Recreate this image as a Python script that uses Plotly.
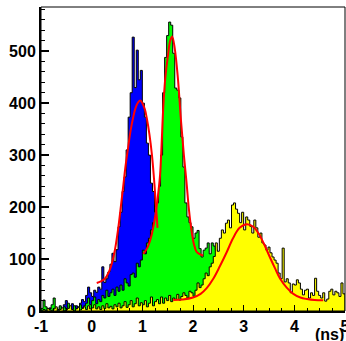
import plotly.graph_objects as go

# ---------------- data ----------------
bin_start = -1.0
bin_width = 0.04   # 150 bins from -1 to 5 ns

blue_counts = [
    2, 0, 4, 0, 6, 3, 0, 5, 2, 8,
    4, 12, 20, 9, 6, 14, 4, 10, 7, 15,
    22, 18, 30, 46, 35, 28, 40, 36, 46, 42,
    85, 55, 62, 75, 90, 111, 95, 118, 162, 190,
    230, 258, 310, 373, 420, 527, 430, 502, 445, 463,
    400, 373, 323, 300, 246, 230, 190, 155, 130, 105,
    85, 65, 50, 35, 25, 18, 12, 8, 5, 3,
] + [0] * 80

green_counts = [
    5, 21, 8, 0, 4, 12, 25, 6, 3, 10,
    2, 8, 4, 15, 6, 3, 10, 5, 8, 12,
    6, 10, 15, 25, 12, 20, 27, 14, 22, 18,
    30, 25, 40, 28, 35, 42, 30, 46, 38, 50,
    40, 62, 54, 48, 70, 73, 65, 92, 85, 98,
    117, 110, 131, 140, 156, 170, 181, 208, 240, 300,
    420, 488, 530, 556, 550, 496, 429, 425, 410, 335,
    277, 208, 181, 170, 162, 140, 150, 155, 120, 104,
    117, 121, 131, 110, 131, 125, 118, 100, 85, 70,
    55, 45, 35, 25, 15, 10, 6, 3, 0, 0,
] + [0] * 50

yellow_counts = [
    0, 3, 0, 5, 2, 0, 4, 8, 0, 3,
    6, 0, 2, 5, 10, 3, 0, 4, 7, 2,
    5, 8, 3, 10, 4, 6, 12, 4, 8, 3,
    10, 5, 14, 6, 9, 4, 12, 8, 15, 6,
    10, 18, 7, 12, 20, 8, 14, 25, 10, 16,
    12, 20, 8, 15, 27, 10, 18, 22, 14, 27,
    15, 25, 20, 30, 18, 25, 22, 32, 21, 28,
    35, 30, 25, 38, 35, 28, 40, 54, 45, 50,
    62, 73, 68, 85, 92, 105, 131, 115, 140, 156,
    150, 169, 175, 160, 204, 208, 196, 188, 170, 190,
    156, 181, 175, 163, 150, 175, 160, 142, 150, 131,
    127, 117, 123, 112, 104, 98, 92, 73, 62, 121,
    56, 62, 54, 35, 52, 50, 60, 54, 42, 31,
    40, 42, 25, 35, 30, 63, 38, 30, 25, 35,
    19, 23, 38, 42, 31, 38, 35, 28, 54, 33,
]

# fitted curves, points
blue_fit_x = [0.10, 0.18, 0.26, 0.34, 0.40, 0.46, 0.52, 0.57, 0.62, 0.67, 0.72, 0.77,
              0.82, 0.87, 0.92, 0.96, 1.00, 1.05, 1.09, 1.14, 1.19, 1.23, 1.26, 1.30]
blue_fit_y = [54, 57, 62, 75, 92, 118, 156, 196, 238, 280, 315, 348,
              373, 392, 402, 405, 400, 388, 370, 340, 300, 255, 215, 160]

green_fit_x = [1.02, 1.10, 1.18, 1.25, 1.30, 1.35, 1.38, 1.41, 1.45, 1.51, 1.55, 1.59,
               1.64, 1.70, 1.76, 1.82, 1.87, 1.92, 1.97, 2.02, 2.07, 2.14, 2.20]
green_fit_y = [110, 122, 145, 180, 215, 262, 320, 386, 445, 495, 520, 528,
               505, 450, 370, 300, 250, 195, 155, 128, 114, 109, 107]

yellow_fit_x = [1.61, 1.80, 2.00, 2.15, 2.27, 2.40, 2.53, 2.66, 2.79, 2.92, 3.06, 3.19,
                3.32, 3.42, 3.52, 3.62, 3.72, 3.85, 3.98, 4.12, 4.25, 4.40, 4.57]
yellow_fit_y = [21, 22, 26, 33, 44, 62, 86, 112, 140, 160, 167, 162,
                145, 125, 103, 82, 62, 45, 33, 26, 23, 21, 20.5]

x_tick_vals = [-1, 0, 1, 2, 3, 4, 5]
x_tick_text = ["-1", "0", "1", "2", "3", "4", "5"]
y_tick_vals = [0, 100, 200, 300, 400, 500]
y_tick_text = ["0", "100", "200", "300", "400", "500"]
x_unit = "(ns)"

# ---------------- figure ----------------
def step_xy(counts):
    n = len(counts)
    edges = [bin_start + bin_width * k for k in range(n + 1)]
    xs = [edges[0]] + edges[:-1] + [edges[-1], edges[-1]]
    ys = [0] + list(counts) + [counts[-1], 0]
    return xs, ys

fig = go.Figure()
for counts, col in [(blue_counts, "#0000ff"), (green_counts, "#00ff00"), (yellow_counts, "#ffff00")]:
    xs, ys = step_xy(counts)
    fig.add_trace(go.Scatter(x=xs, y=ys, mode="lines", line=dict(color="black", width=1, shape="hv"),
                             fill="tozeroy", fillcolor=col, hoverinfo="skip", showlegend=False))

for fx, fy in [(blue_fit_x, blue_fit_y), (green_fit_x, green_fit_y), (yellow_fit_x, yellow_fit_y)]:
    fig.add_trace(go.Scatter(x=fx, y=fy, mode="lines", line=dict(color="#ff0000", width=2, shape="spline"),
                             hoverinfo="skip", showlegend=False))

tick_font = dict(family="Liberation Sans, Arial, sans-serif", size=16, color="black", weight="bold")

fig.update_layout(
    width=346, height=341,
    margin=dict(l=41, r=1, t=7, b=30, autoexpand=False),
    paper_bgcolor="white", plot_bgcolor="white",
    showlegend=False,
    xaxis=dict(range=[-1, 5], tickmode="array", tickvals=x_tick_vals, ticktext=x_tick_text,
               ticks="inside", ticklen=6, tickwidth=1, tickcolor="black",
               minor=dict(dtick=0.25, tick0=-1, ticks="inside", ticklen=3, tickwidth=1, tickcolor="black"),
               showgrid=False, zeroline=False, showline=True, linecolor="black", linewidth=2,
               tickfont=tick_font, automargin=False, fixedrange=True, ticklabeloverflow="allow"),
    yaxis=dict(range=[0, 585], tickmode="array", tickvals=y_tick_vals, ticktext=y_tick_text,
               ticks="inside", ticklen=8, tickwidth=1.5, tickcolor="black",
               minor=dict(dtick=20, tick0=0, ticks="inside", ticklen=4, tickwidth=1, tickcolor="black"),
               showgrid=False, zeroline=False, showline=True, linecolor="black", linewidth=2,
               tickfont=tick_font, automargin=False, fixedrange=True, ticklabeloverflow="allow"),
    shapes=[dict(type="rect", xref="paper", yref="paper", x0=0, y0=0, x1=1, y1=1,
                 line=dict(color="black", width=1), layer="above")],
    annotations=[dict(text=x_unit, xref="paper", yref="paper", x=1.0, y=0, xanchor="right", yanchor="top",
                      yshift=-13, xshift=1, showarrow=False,
                      font=dict(family="Liberation Sans, Arial, sans-serif", size=16, color="black", weight="bold"))],
)

fig.write_html("out.html", config={"displayModeBar": False, "staticPlot": True},
               post_script="document.body.style.margin='0';document.body.style.overflow='hidden';")
